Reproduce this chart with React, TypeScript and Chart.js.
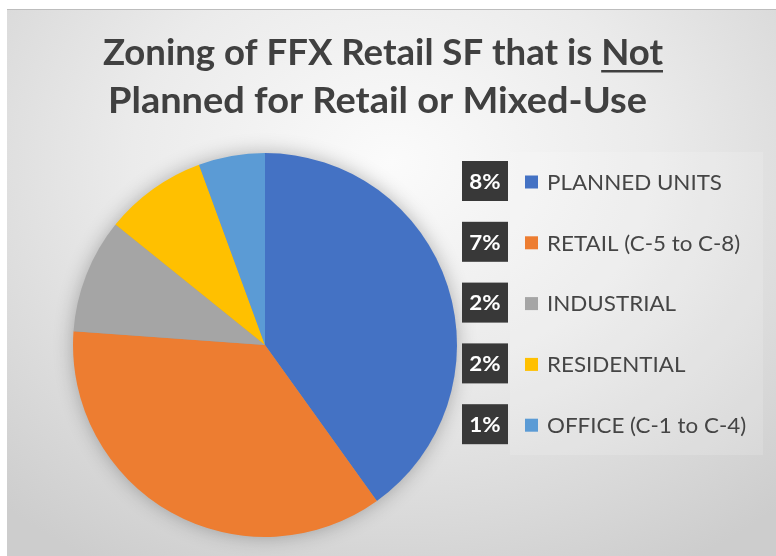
import React, { useEffect, useRef } from "react";
import { Chart, registerables } from "chart.js";

Chart.register(...registerables);

// ---- data ----
const categories = [
  "PLANNED UNITS",
  "RETAIL (C-5 to C-8)",
  "INDUSTRIAL",
  "RESIDENTIAL",
  "OFFICE (C-1 to C-4)",
];
const shares = [7.9, 7.1, 1.9, 1.7, 1.1]; // % of FFX retail SF
const sliceColors = ["#4472C4", "#ED7D31", "#A5A5A5", "#FFC000", "#5B9BD5"];
const titleLine1 = "Zoning of FFX Retail SF that is ";
const titleUnderlined = "Not";
const titleLine2 = "Planned for Retail or Mixed-Use";

const FONT = "Lato, 'Open Sans', sans-serif";

// draw text with a fixed font size, horizontally scaled (Calibri-like narrow look)
function drawScaled(ctx: CanvasRenderingContext2D, text: string, x: number, y: number, sx: number) {
  ctx.save();
  ctx.translate(x, y);
  ctx.scale(sx, 1);
  ctx.fillText(text, 0, 0);
  ctx.restore();
}

const shadowPlugin = {
  id: "pieShadow",
  beforeDatasetsDraw(chart: any) {
    const meta = chart.getDatasetMeta(0);
    const arc = meta.data[0];
    if (!arc) return;
    const { x, y, outerRadius } = arc.getProps(["x", "y", "outerRadius"], true);
    const ctx = chart.ctx;
    ctx.save();
    ctx.shadowColor = "rgba(0,0,0,0.3)";
    ctx.shadowBlur = 20;
    ctx.fillStyle = "#999";
    ctx.beginPath();
    ctx.arc(x, y, outerRadius - 1, 0, Math.PI * 2);
    ctx.fill();
    ctx.restore();
  },
};

const decorPlugin = {
  id: "decor",
  afterDraw(chart: any) {
    const ctx: CanvasRenderingContext2D = chart.ctx;
    ctx.save();
    // ---- title ----
    ctx.font = `bold 37px ${FONT}`;
    ctx.fillStyle = "#404040";
    ctx.textBaseline = "alphabetic";
    ctx.textAlign = "left";
    const full1 = ctx.measureText(titleLine1 + titleUnderlined).width;
    const sx = 560 / full1;
    const x1 = 103;
    drawScaled(ctx, titleLine1, x1, 65, sx);
    const wPre = ctx.measureText(titleLine1).width * sx;
    const wNot = ctx.measureText(titleUnderlined).width * sx;
    drawScaled(ctx, titleUnderlined, x1 + wPre, 65, sx);
    ctx.fillRect(x1 + wPre, 70, wNot, 2.5);
    const sx2 = 539 / ctx.measureText(titleLine2).width;
    drawScaled(ctx, titleLine2, 108, 113, sx2);

    // ---- legend ----
    const labels: string[] = chart.data.labels;
    const values: number[] = chart.data.datasets[0].data;
    const colors: string[] = chart.data.datasets[0].backgroundColor;
    ctx.fillStyle = "rgba(255,255,255,0.15)";
    ctx.fillRect(510, 152, 253, 303);
    ctx.font = `normal 21px ${FONT}`;
    const lsx = 175 / ctx.measureText(labels[0]).width;
    for (let i = 0; i < labels.length; i++) {
      const cy = 182 + i * 60.8;
      // dark percent badge
      ctx.fillStyle = "#383838";
      ctx.fillRect(462, cy - 21, 46, 40);
      ctx.fillStyle = "#ffffff";
      ctx.font = `bold 21px ${FONT}`;
      ctx.textAlign = "center";
      ctx.textBaseline = "middle";
      drawScaled(ctx, Math.round(values[i]) + "%", 485, cy, lsx);
      // colour square
      ctx.fillStyle = colors[i];
      ctx.fillRect(525, cy - 6.5, 13, 13);
      // label
      ctx.fillStyle = "#454545";
      ctx.font = `normal 21px ${FONT}`;
      ctx.textAlign = "left";
      drawScaled(ctx, labels[i], 547, cy + 1, lsx);
    }
    ctx.restore();
  },
};

export default function App() {
  const ref = useRef<HTMLCanvasElement>(null);
  useEffect(() => {
    if (!ref.current) return;
    const chart = new Chart(ref.current, {
      type: "pie",
      data: {
        labels: categories,
        datasets: [
          {
            data: shares,
            backgroundColor: sliceColors,
            borderWidth: 0,
          },
        ],
      },
      options: {
        responsive: false,
        animation: false,
        devicePixelRatio: 1,
        layout: { padding: { left: 73, top: 153, right: 319, bottom: 19 } },
        plugins: {
          legend: { display: false },
          title: { display: false },
          tooltip: { enabled: false },
        },
      },
      plugins: [shadowPlugin, decorPlugin],
    });
    return () => chart.destroy();
  }, []);

  return (
    <div style={{ position: "fixed", left: 0, top: 0, width: 776, height: 556, background: "#ffffff", overflow: "hidden" }}>
      <div
        style={{
          position: "absolute",
          left: 7,
          top: 9,
          right: 0,
          bottom: 0,
          borderTop: "1px solid #bdbdbd",
          background:
            "radial-gradient(ellipse 75% 85% at 50% 28%, #fbfbfb 0%, #ebebeb 45%, #cdcdcd 100%)",
        }}
      />
      <canvas
        ref={ref}
        width={776}
        height={556}
        style={{ position: "absolute", left: 0, top: 0, width: 776, height: 556, display: "block" }}
      />
    </div>
  );
}
